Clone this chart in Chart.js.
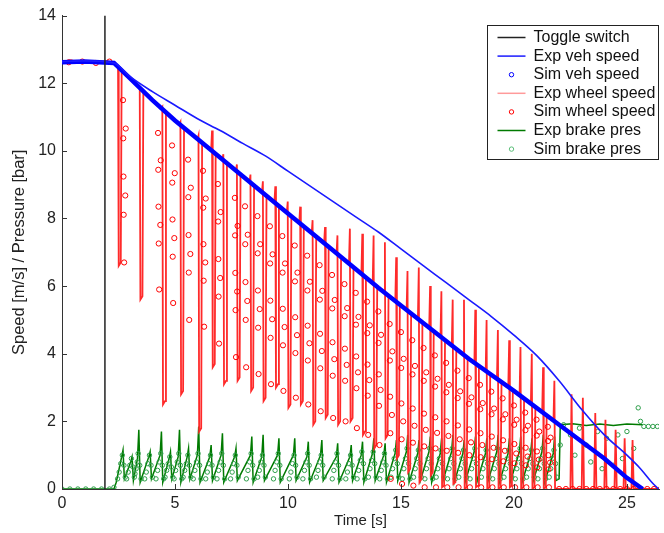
<!DOCTYPE html>
<html>
<head>
<meta charset="utf-8">
<title>Braking test</title>
<script src="https://cdn.jsdelivr.net/npm/chart.js@4/dist/chart.umd.min.js"></script>
<style>
  html, body { margin: 0; padding: 0; background: #fff; }
  #wrap { width: 664px; height: 533px; position: relative; }
</style>
</head>
<body>
<div id="wrap"><canvas id="brakeChart"></canvas></div>
<script>
// Data: [time s, value]
const toggleSwitch = [[1.9, 0], [1.9, 14]];

const expVehSpeed = [
  [0, 12.64], [1, 12.66], [2.3, 12.6], [3, 12.2], [4, 11.75], [5, 11.35], [6, 10.95],
  [7, 10.6], [8, 10.22], [9, 9.85], [10, 9.4], [11, 8.95], [12, 8.5], [13, 8.05],
  [14, 7.6], [15, 7.1], [16, 6.6], [17, 6.1], [18, 5.6], [19, 5.1], [20, 4.55],
  [21, 3.95], [22, 3.2], [23, 2.35], [24, 1.6], [25, 1.0], [25.6, 0.6], [26.1, 0.2], [26.4, 0]
];

const simVehSpeed = [
  [0, 12.62], [1, 12.64], [2.3, 12.6], [3, 12.15], [4, 11.5], [5, 10.9], [6, 10.35],
  [8, 9.25], [10, 8.15], [12, 7.05], [14, 5.95], [16, 4.9], [18, 3.85], [20, 2.9],
  [22, 1.9], [24, 0.9], [25, 0.33], [25.7, 0]
];

const expWheelSpeed = [
  [0, 12.62], [0.4, 12.68], [0.8, 12.6], [1.2, 12.66], [1.6, 12.6], [2.0, 12.65], [2.3, 12.6],
  [2.44, 12.5], [2.48, 12.48], [2.51, 6.6], [2.6, 6.7], [2.64, 12.38],
  [3.4, 11.9], [3.44, 11.88], [3.47, 5.6], [3.56, 5.7], [3.6, 11.76],
  [4.4, 11.26], [4.44, 11.3], [4.47, 2.5], [4.56, 2.6], [4.6, 11.14],
  [5.2, 10.79], [5.24, 10.85], [5.27, 2.8], [5.36, 2.9], [5.4, 10.68],
  [6.0, 10.35], [6.04, 10.45], [6.07, 1.7], [6.16, 1.8], [6.2, 10.24],
  [6.6, 10.02], [6.64, 10.6], [6.67, 3.6], [6.76, 3.7], [6.8, 9.9],
  [7.1, 9.75], [7.14, 9.9], [7.17, 3.1], [7.26, 3.2], [7.3, 9.64],
  [7.7, 9.42], [7.74, 9.6], [7.77, 3.2], [7.86, 3.3], [7.9, 9.31],
  [8.3, 9.09], [8.34, 9.3], [8.37, 2.9], [8.46, 3.0], [8.5, 8.98],
  [8.85, 8.78], [8.89, 9.1], [8.92, 2.6], [9.01, 2.7], [9.05, 8.67],
  [9.4, 8.48], [9.44, 8.95], [9.47, 3.0], [9.56, 3.1], [9.6, 8.37],
  [9.95, 8.18], [9.99, 8.5], [10.02, 2.4], [10.11, 2.5], [10.15, 8.07],
  [10.5, 7.88], [10.54, 8.35], [10.57, 2.5], [10.66, 2.6], [10.7, 7.77],
  [11.05, 7.57], [11.09, 7.95], [11.12, 1.9], [11.21, 2.0], [11.25, 7.46],
  [11.6, 7.27], [11.64, 7.75], [11.67, 2.1], [11.76, 2.2], [11.8, 7.16],
  [12.15, 6.97], [12.19, 7.5], [12.22, 1.9], [12.31, 2.0], [12.35, 6.86],
  [12.7, 6.67], [12.74, 7.7], [12.77, 2.0], [12.86, 2.1], [12.9, 6.56],
  [13.25, 6.36], [13.29, 7.55], [13.32, 1.6], [13.41, 1.7], [13.45, 6.25],
  [13.75, 6.09], [13.79, 7.5], [13.82, 1.2], [13.91, 1.3], [13.95, 5.98],
  [14.25, 5.82], [14.29, 7.3], [14.32, 1.5], [14.41, 1.6], [14.45, 5.71],
  [14.75, 5.56], [14.79, 6.85], [14.82, 0.9], [14.91, 1.0], [14.95, 5.45],
  [15.25, 5.29], [15.29, 6.45], [15.32, 0.5], [15.41, 0.6], [15.45, 5.19],
  [15.75, 5.03], [15.79, 6.55], [15.82, 0.2], [15.91, 0.3], [15.95, 4.93],
  [16.25, 4.77], [16.29, 6.0], [16.32, 0.4], [16.41, 0.5], [16.45, 4.66],
  [16.75, 4.51], [16.79, 5.85], [16.82, 0.05], [16.91, 0.1], [16.95, 4.4],
  [17.25, 4.24], [17.29, 5.6], [17.32, 0.15], [17.41, 0.2], [17.45, 4.14],
  [17.75, 3.98], [17.79, 5.6], [17.82, 0], [17.91, 0.05], [17.95, 3.88],
  [18.25, 3.73], [18.29, 5.3], [18.32, 0.05], [18.41, 0.1], [18.45, 3.64],
  [18.75, 3.49], [18.79, 5.0], [18.82, 0], [18.91, 0.05], [18.95, 3.4],
  [19.25, 3.26], [19.29, 4.7], [19.32, 0], [19.41, 0.05], [19.45, 3.16],
  [19.75, 3.02], [19.79, 4.4], [19.82, 0.05], [19.91, 0.1], [19.95, 2.92],
  [20.25, 2.78], [20.29, 4.2], [20.32, 0], [20.41, 0.05], [20.45, 2.68],
  [20.75, 2.53], [20.79, 4.0], [20.82, 0], [20.91, 0.05], [20.95, 2.43],
  [21.25, 2.28], [21.29, 3.6], [21.32, 0], [21.41, 0.05], [21.45, 2.18],
  [21.75, 2.03], [21.79, 3.2], [21.82, 0], [22.5, 0],
  [22.55, 2.8], [22.6, 0], [23.0, 0], [23.05, 2.7], [23.1, 0], [23.55, 0], [23.6, 2.25], [23.65, 0],
  [24.0, 0], [24.05, 2.05], [24.1, 0], [24.45, 0], [24.5, 1.75], [24.55, 0], [24.85, 0], [24.9, 1.5],
  [24.95, 0], [25.2, 0], [25.25, 1.45], [25.3, 0], [26.7, 0]
];

const simWheelSpeed = [
  [0.3, 12.62], [0.9, 12.64], [1.5, 12.6], [2.1, 12.64],
  [2.7, 11.5], [2.71, 10.37], [2.72, 9.24], [2.73, 8.11], [2.75, 6.7], [2.8, 8.68], [2.82, 10.66],
  [4.25, 10.53], [4.26, 9.44], [4.27, 8.35], [4.28, 7.26], [4.3, 5.9], [4.35, 7.81], [4.37, 9.72],
  [4.87, 10.16], [4.88, 9.06], [4.89, 7.97], [4.9, 6.87], [4.92, 5.5], [4.97, 7.42], [4.99, 9.34],
  [5.58, 9.74], [5.59, 8.63], [5.6, 7.51], [5.61, 6.4], [5.63, 5.0], [5.68, 6.95], [5.7, 8.91],
  [6.24, 9.41], [6.25, 8.32], [6.26, 7.24], [6.27, 6.16], [6.29, 4.8], [6.34, 6.7], [6.36, 8.59],
  [6.9, 9.02], [6.91, 7.91], [6.92, 6.8], [6.93, 5.69], [6.95, 4.3], [7.0, 6.24], [7.02, 8.19],
  [7.65, 8.61], [7.66, 7.5], [7.67, 6.39], [7.68, 5.29], [7.7, 3.9], [7.75, 5.84], [7.77, 7.78],
  [8.1, 8.36], [8.11, 7.24], [8.12, 6.12], [8.13, 5.0], [8.15, 3.6], [8.2, 5.56], [8.22, 7.52],
  [8.65, 8.07], [8.66, 6.97], [8.67, 5.87], [8.68, 4.77], [8.7, 3.4], [8.75, 5.32], [8.77, 7.24],
  [9.2, 7.77], [9.21, 6.67], [9.22, 5.57], [9.23, 4.47], [9.25, 3.1], [9.3, 5.02], [9.32, 6.94],
  [9.75, 7.48], [9.76, 6.4], [9.77, 5.33], [9.78, 4.25], [9.8, 2.9], [9.85, 4.79], [9.87, 6.67],
  [10.3, 7.2], [10.31, 6.14], [10.32, 5.08], [10.33, 4.02], [10.35, 2.7], [10.4, 4.55], [10.42, 6.4],
  [10.85, 6.9], [10.86, 5.87], [10.87, 4.83], [10.88, 3.8], [10.9, 2.5], [10.95, 4.31], [10.97, 6.13],
  [11.4, 6.62], [11.41, 5.6], [11.42, 4.59], [11.43, 3.57], [11.45, 2.3], [11.5, 4.08], [11.52, 5.86],
  [11.95, 6.33], [11.96, 5.34], [11.97, 4.34], [11.98, 3.35], [12.0, 2.1], [12.05, 3.84], [12.07, 5.59],
  [12.5, 6.06], [12.51, 5.11], [12.52, 4.15], [12.53, 3.2], [12.55, 2.0], [12.6, 3.67], [12.62, 5.35],
  [13.0, 5.8], [13.01, 4.86], [13.02, 3.92], [13.03, 2.98], [13.05, 1.8], [13.1, 3.45], [13.12, 5.09],
  [13.5, 5.54], [13.51, 4.61], [13.52, 3.68], [13.53, 2.76], [13.55, 1.6], [13.6, 3.22], [13.62, 4.84],
  [14.0, 5.25], [14.01, 4.32], [14.02, 3.39], [14.03, 2.46], [14.05, 1.3], [14.1, 2.93], [14.12, 4.56],
  [14.5, 4.88], [14.51, 3.8], [14.52, 2.73], [14.53, 1.65], [14.55, 0.3], [14.6, 2.19], [14.62, 4.07],
  [15.0, 4.64], [15.01, 3.58], [15.02, 2.53], [15.03, 1.47], [15.05, 0.15], [15.1, 2.0], [15.12, 3.85],
  [15.5, 4.4], [15.51, 3.39], [15.52, 2.38], [15.53, 1.37], [15.55, 0.1], [15.6, 1.87], [15.62, 3.64],
  [16.0, 4.17], [16.01, 3.2], [16.02, 2.23], [16.03, 1.26], [16.05, 0.05], [16.1, 1.75], [16.12, 3.45],
  [16.5, 3.95], [16.51, 3.03], [16.52, 2.12], [16.53, 1.2], [16.55, 0.05], [16.6, 1.66], [16.62, 3.26],
  [17.0, 3.73], [17.01, 2.86], [17.02, 2.0], [17.03, 1.13], [17.05, 0.05], [17.1, 1.57], [17.12, 3.08],
  [17.5, 3.5], [17.51, 2.69], [17.52, 1.88], [17.53, 1.07], [17.55, 0.05], [17.6, 1.47], [17.62, 2.89],
  [18.0, 3.28], [18.01, 2.52], [18.02, 1.76], [18.03, 1.0], [18.05, 0.05], [18.1, 1.38], [18.12, 2.71],
  [18.5, 3.08], [18.51, 2.36], [18.52, 1.65], [18.53, 0.94], [18.55, 0.05], [18.6, 1.3], [18.62, 2.54],
  [19.0, 2.88], [19.01, 2.21], [19.02, 1.55], [19.03, 0.88], [19.05, 0.05], [19.1, 1.22], [19.12, 2.38],
  [19.5, 2.68], [19.51, 2.06], [19.52, 1.44], [19.53, 0.82], [19.55, 0.05], [19.6, 1.13], [19.62, 2.21],
  [20.0, 2.47], [20.01, 1.9], [20.02, 1.33], [20.03, 0.76], [20.05, 0.05], [20.1, 1.05], [20.12, 2.05],
  [20.5, 2.26], [20.51, 1.74], [20.52, 1.22], [20.53, 0.7], [20.55, 0.05], [20.6, 0.96], [20.62, 1.87],
  [21.0, 2.05], [21.01, 1.58], [21.02, 1.11], [21.03, 0.64], [21.05, 0.05], [21.1, 0.87], [21.12, 1.7],
  [21.5, 1.84], [21.51, 1.42], [21.52, 1.0], [21.53, 0.58], [21.55, 0.05], [21.6, 0.78], [21.62, 1.52],
  [22.0, 0], [22.3, 0], [22.6, 0], [22.9, 0], [23.2, 0], [23.5, 0], [23.8, 0], [24.1, 0],
  [24.4, 0], [24.7, 0], [25.0, 0], [25.3, 0], [25.6, 0], [25.9, 0], [26.2, 0], [26.5, 0]
];

const expBrakePres = [
  [0, 0], [2.3, 0], [2.4, 0.2],
  [2.64, 0.95], [2.7, 1.15], [2.76, 0.3], [3.04, 0.8], [3.1, 0.95], [3.16, 0.25],
  [3.34, 0.9], [3.4, 1.75], [3.46, 0.2], [3.84, 0.95], [3.9, 1.1], [3.96, 0.3],
  [4.34, 1.0], [4.4, 1.7], [4.46, 0.2], [4.74, 0.9], [4.8, 1.1], [4.86, 0.3],
  [5.14, 0.95], [5.2, 1.75], [5.26, 0.2], [5.54, 0.95], [5.6, 1.2], [5.66, 0.3],
  [5.99, 1.0], [6.05, 1.85], [6.11, 0.2], [6.54, 0.95], [6.6, 1.3], [6.66, 0.25],
  [7.04, 1.0], [7.1, 1.65], [7.16, 0.2], [7.64, 0.95], [7.7, 1.2], [7.76, 0.25],
  [8.34, 1.0], [8.4, 1.55], [8.46, 0.2], [8.84, 0.95], [8.9, 1.6], [8.96, 0.25],
  [9.54, 1.0], [9.6, 1.5], [9.66, 0.2], [10.24, 1.0], [10.3, 1.5], [10.36, 0.25],
  [10.84, 0.95], [10.9, 1.4], [10.96, 0.2], [11.44, 1.0], [11.5, 1.45], [11.56, 0.25],
  [12.14, 0.95], [12.2, 1.35], [12.26, 0.2], [12.74, 0.95], [12.8, 1.3], [12.86, 0.25],
  [13.24, 1.0], [13.3, 1.4], [13.36, 0.2], [13.74, 1.05], [13.8, 1.5], [13.86, 0.25],
  [14.24, 1.0], [14.3, 1.35], [14.36, 0.2], [14.74, 1.05], [14.8, 1.45], [14.86, 0.25],
  [15.24, 1.1], [15.3, 1.6], [15.36, 0.2], [15.74, 1.05], [15.8, 1.45], [15.86, 0.25],
  [16.24, 1.1], [16.3, 1.55], [16.36, 0.2], [16.74, 1.05], [16.8, 1.5], [16.86, 0.25],
  [17.24, 1.1], [17.3, 1.6], [17.36, 0.2], [17.74, 1.05], [17.8, 1.45], [17.86, 0.25],
  [18.24, 1.1], [18.3, 1.55], [18.36, 0.2], [18.74, 1.05], [18.8, 1.5], [18.86, 0.25],
  [19.24, 1.1], [19.3, 1.6], [19.36, 0.2], [19.74, 1.05], [19.8, 1.5], [19.86, 0.25],
  [20.24, 1.1], [20.3, 1.55], [20.36, 0.2], [20.74, 1.05], [20.8, 1.5], [20.86, 0.25],
  [21.24, 1.1], [21.3, 1.6], [21.36, 0.2], [21.74, 1.05], [21.8, 1.55], [21.86, 0.25],
  [22.0, 0.3], [22.05, 1.9], [22.6, 1.93], [23.2, 1.88], [23.8, 1.92], [24.4, 1.88],
  [25.0, 1.92], [25.7, 1.9]
];

const simBrakePres = [
  [0, 0], [0.35, 0], [0.7, 0], [1.05, 0], [1.4, 0], [1.75, 0], [2.1, 0], [2.3, 0.05],
  [2.46, 0.3], [2.53, 0.5], [2.6, 0.75], [2.67, 1.0], [2.74, 0.7], [2.8, 0.35],
  [2.86, 0.3], [2.93, 0.5], [3.0, 0.7], [3.07, 0.9], [3.14, 0.65], [3.2, 0.35],
  [3.23, 0.45], [3.28, 0.6], [3.33, 0.8], [3.37, 1.05], [3.44, 0.7], [3.5, 0.3],
  [3.66, 0.3], [3.73, 0.5], [3.8, 0.75], [3.87, 1.0], [3.94, 0.7], [4.0, 0.35],
  [4.16, 0.3], [4.23, 0.55], [4.3, 0.8], [4.37, 1.05], [4.44, 0.7], [4.5, 0.3],
  [4.56, 0.35], [4.63, 0.55], [4.7, 0.75], [4.77, 0.95], [4.84, 0.65], [4.9, 0.35],
  [4.96, 0.3], [5.03, 0.55], [5.1, 0.8], [5.17, 1.05], [5.24, 0.7], [5.3, 0.3],
  [5.36, 0.35], [5.43, 0.55], [5.5, 0.75], [5.57, 1.0], [5.64, 0.7], [5.7, 0.35],
  [5.81, 0.3], [5.88, 0.55], [5.95, 0.8], [6.02, 1.05], [6.09, 0.7], [6.15, 0.3],
  [6.36, 0.3], [6.43, 0.5], [6.5, 0.75], [6.57, 1.0], [6.64, 0.7], [6.7, 0.35],
  [6.86, 0.3], [6.93, 0.55], [7.0, 0.8], [7.07, 1.05], [7.14, 0.7], [7.2, 0.3],
  [7.46, 0.3], [7.53, 0.5], [7.6, 0.75], [7.67, 1.0], [7.74, 0.7], [7.8, 0.35],
  [8.16, 0.3], [8.23, 0.55], [8.3, 0.8], [8.37, 1.05], [8.44, 0.7], [8.5, 0.3],
  [8.66, 0.35], [8.73, 0.55], [8.8, 0.8], [8.87, 1.0], [8.94, 0.7], [9.0, 0.35],
  [9.36, 0.3], [9.43, 0.55], [9.5, 0.8], [9.57, 1.05], [9.64, 0.7], [9.7, 0.3],
  [10.06, 0.3], [10.13, 0.5], [10.2, 0.75], [10.27, 1.0], [10.34, 0.7], [10.4, 0.35],
  [10.66, 0.3], [10.73, 0.55], [10.8, 0.8], [10.87, 1.05], [10.94, 0.7], [11.0, 0.3],
  [11.26, 0.35], [11.33, 0.55], [11.4, 0.8], [11.47, 1.0], [11.54, 0.7], [11.6, 0.35],
  [11.96, 0.3], [12.03, 0.55], [12.1, 0.8], [12.17, 1.05], [12.24, 0.7], [12.3, 0.3],
  [12.56, 0.3], [12.63, 0.5], [12.7, 0.75], [12.77, 1.0], [12.84, 0.7], [12.9, 0.35],
  [13.06, 0.3], [13.13, 0.55], [13.2, 0.85], [13.27, 1.1], [13.34, 0.75], [13.4, 0.3],
  [13.56, 0.35], [13.63, 0.6], [13.7, 0.85], [13.77, 1.1], [13.84, 0.75], [13.9, 0.35],
  [14.06, 0.3], [14.13, 0.55], [14.2, 0.8], [14.27, 1.05], [14.34, 0.7], [14.4, 0.3],
  [14.56, 0.35], [14.63, 0.6], [14.7, 0.9], [14.77, 1.15], [14.84, 0.75], [14.9, 0.35],
  [15.06, 0.3], [15.13, 0.6], [15.2, 0.9], [15.27, 1.2], [15.34, 0.75], [15.4, 0.3],
  [15.56, 0.35], [15.63, 0.6], [15.7, 0.9], [15.77, 1.15], [15.84, 0.75], [15.9, 0.35],
  [16.06, 0.3], [16.13, 0.6], [16.2, 0.9], [16.27, 1.2], [16.34, 0.75], [16.4, 0.3],
  [16.56, 0.35], [16.63, 0.6], [16.7, 0.9], [16.77, 1.15], [16.84, 0.75], [16.9, 0.35],
  [17.06, 0.3], [17.13, 0.6], [17.2, 0.9], [17.27, 1.2], [17.34, 0.75], [17.4, 0.3],
  [17.56, 0.35], [17.63, 0.6], [17.7, 0.9], [17.77, 1.15], [17.84, 0.75], [17.9, 0.35],
  [18.06, 0.3], [18.13, 0.6], [18.2, 0.9], [18.27, 1.2], [18.34, 0.75], [18.4, 0.3],
  [18.56, 0.35], [18.63, 0.6], [18.7, 0.9], [18.77, 1.15], [18.84, 0.75], [18.9, 0.35],
  [19.06, 0.3], [19.13, 0.6], [19.2, 0.9], [19.27, 1.2], [19.34, 0.75], [19.4, 0.3],
  [19.56, 0.35], [19.63, 0.6], [19.7, 0.9], [19.77, 1.15], [19.84, 0.75], [19.9, 0.35],
  [20.06, 0.3], [20.13, 0.6], [20.2, 0.9], [20.27, 1.2], [20.34, 0.75], [20.4, 0.3],
  [20.56, 0.35], [20.63, 0.6], [20.7, 0.9], [20.77, 1.15], [20.84, 0.75], [20.9, 0.35],
  [21.06, 0.3], [21.13, 0.6], [21.2, 0.9], [21.27, 1.2], [21.34, 0.75], [21.4, 0.3],
  [21.56, 0.35], [21.63, 0.6], [21.7, 0.9], [21.77, 1.15], [21.84, 0.75], [21.9, 0.35],
  [22.05, 1.3], [22.2, 1.9], [22.5, 1.6], [22.7, 1.0], [22.9, 1.8], [23.2, 1.3], [23.4, 0.8], [23.7, 1.7],
  [23.9, 0.6], [24.1, 1.5], [24.4, 0.7], [24.6, 1.6], [24.8, 0.9], [25.0, 1.7], [25.3, 1.2], [25.5, 2.4],
  [25.6, 2.0], [25.75, 1.85], [25.95, 1.85], [26.15, 1.85], [26.35, 1.85], [26.55, 1.85]
];

const seriesLabels = ["Toggle switch", "Exp veh speed", "Sim veh speed", "Exp wheel speed",
  "Sim wheel speed", "Exp brake pres", "Sim brake pres"];
const xTicks = [0, 5, 10, 15, 20, 25];
const yTicks = [0, 2, 4, 6, 8, 10, 12, 14];

const pts = (arr) => arr.map(([x, y]) => ({ x, y }));
const FONT = '"Liberation Sans", Arial, Helvetica, sans-serif';
Chart.defaults.font.family = FONT;
Chart.defaults.color = "#222";

// inward tick marks, matlab style
const innerTicks = {
  id: "innerTicks",
  afterDatasetsDraw(chart) {
    const { ctx, chartArea, scales } = chart;
    ctx.save();
    ctx.strokeStyle = "#333";
    ctx.lineWidth = 1;
    ctx.beginPath();
    xTicks.forEach((v) => {
      const px = Math.round(scales.x.getPixelForValue(v)) + 0.5;
      ctx.moveTo(px, chartArea.bottom);
      ctx.lineTo(px, chartArea.bottom - 5);
    });
    yTicks.forEach((v) => {
      const py = Math.round(scales.y.getPixelForValue(v)) + 0.5;
      ctx.moveTo(chartArea.left, py);
      ctx.lineTo(chartArea.left + 5, py);
    });
    ctx.stroke();
    ctx.restore();
  },
};

// boxed legend inside the plot, top right
const legendBox = {
  id: "legendBox",
  afterDraw(chart) {
    const { ctx, chartArea } = chart;
    const w = 171, h = 134;
    const x0 = Math.round(chart.width - w - 6) + 0.5;
    const y0 = Math.round(chartArea.top + 9) + 0.5;
    ctx.save();
    ctx.fillStyle = "#fff";
    ctx.fillRect(x0, y0, w, h);
    ctx.strokeStyle = "#222";
    ctx.lineWidth = 1;
    ctx.strokeRect(x0, y0, w, h);
    ctx.font = "16px " + FONT;
    ctx.textBaseline = "middle";
    chart.data.datasets.forEach((ds, i) => {
      const yy = y0 + 12 + i * 18.6;
      if (ds.marker === "line") {
        ctx.strokeStyle = ds.legendColor || ds.borderColor;
        ctx.lineWidth = 1.5;
        ctx.beginPath();
        ctx.moveTo(x0 + 10, yy);
        ctx.lineTo(x0 + 38, yy);
        ctx.stroke();
      } else {
        ctx.strokeStyle = ds.legendColor || ds.borderColor;
        ctx.lineWidth = 1;
        ctx.beginPath();
        ctx.arc(x0 + 24, yy, 2.2, 0, Math.PI * 2);
        ctx.stroke();
      }
      ctx.fillStyle = "#111";
      ctx.fillText(ds.label, x0 + 46, yy);
    });
    ctx.restore();
  },
};

const ctx = document.getElementById("brakeChart").getContext("2d");
const brakeChart = new Chart(ctx, {
  type: "scatter",
  data: {
    datasets: [
      {
        label: seriesLabels[0], data: pts(toggleSwitch), showLine: true, marker: "line",
        borderColor: "#222", borderWidth: 1.5, pointRadius: 0, order: 0,
      },
      {
        label: seriesLabels[1], data: pts(expVehSpeed), showLine: true, marker: "line",
        borderColor: "#1a1aff", borderWidth: 1.6, pointRadius: 0, order: 1,
        cubicInterpolationMode: "monotone",
      },
      {
        // dense simulated markers merge into a thick band
        label: seriesLabels[2], data: pts(simVehSpeed), showLine: true, marker: "circle",
        borderColor: "#0000ff", borderWidth: 4.5, pointRadius: 0, order: 2,
      },
      {
        label: seriesLabels[3], data: pts(expWheelSpeed), showLine: true, marker: "line",
        borderColor: "#ff2a2a", legendColor: "#ff9a9a", borderWidth: 1.8, pointRadius: 0, order: 4,
      },
      {
        label: seriesLabels[4], data: pts(simWheelSpeed), showLine: false, marker: "circle",
        borderColor: "#ff0000", backgroundColor: "rgba(255,255,255,0)", pointRadius: 2.6,
        pointBorderWidth: 1, order: 3,
      },
      {
        label: seriesLabels[5], data: pts(expBrakePres), showLine: true, marker: "line",
        borderColor: "#007a00", borderWidth: 1.5, pointRadius: 0, order: 6,
      },
      {
        label: seriesLabels[6], data: pts(simBrakePres), showLine: false, marker: "circle",
        borderColor: "#2e9e4a", legendColor: "#5cbf7a", backgroundColor: "rgba(255,255,255,0)",
        pointRadius: 2.2, pointBorderWidth: 1, order: 5,
      },
    ],
  },
  options: {
    responsive: true,
    maintainAspectRatio: false,
    animation: false,
    events: [],
    layout: { padding: { top: 15, right: 0, left: 0, bottom: 0 } },
    plugins: {
      legend: { display: false },
      tooltip: { enabled: false },
    },
    scales: {
      x: {
        type: "linear",
        min: 0,
        max: 26.42,
        afterFit: (s) => { s.height = 44; },
        afterBuildTicks: (s) => { s.ticks = xTicks.map((v) => ({ value: v })); },
        ticks: { font: { size: 16 }, padding: 5, maxRotation: 0 },
        grid: { display: false, drawTicks: false },
        border: { color: "#333", width: 1 },
        title: { display: true, text: "Time [s]", font: { size: 15 }, padding: 3 },
      },
      y: {
        type: "linear",
        min: 0,
        max: 14,
        afterFit: (s) => { s.width = 62; },
        afterBuildTicks: (s) => { s.ticks = yTicks.map((v) => ({ value: v })); },
        ticks: { font: { size: 16 }, padding: 6 },
        grid: { display: false, drawTicks: false },
        border: { color: "#333", width: 1 },
        title: { display: true, text: "Speed [m/s] / Pressure [bar]", font: { size: 16.5 }, padding: 10 },
      },
    },
  },
  plugins: [innerTicks, legendBox],
});
</script>
</body>
</html>
